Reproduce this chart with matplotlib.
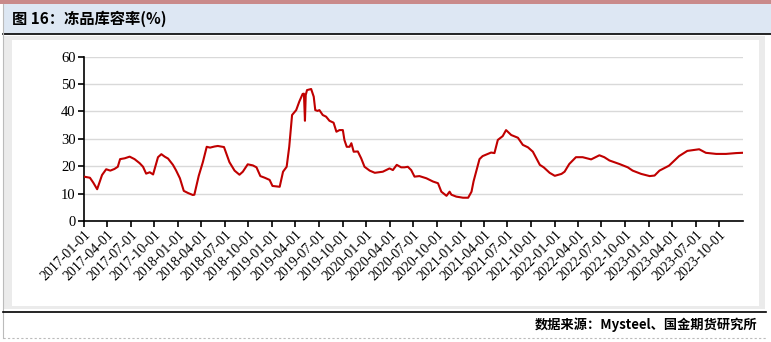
import matplotlib.pyplot as plt
import matplotlib.dates as mdates
import pandas as pd
from matplotlib.patches import Rectangle
from matplotlib.lines import Line2D

# 冻品库容率 (%)
dates = [
    "2017-01-01", "2017-01-24", "2017-02-06", "2017-02-21", "2017-03-12", "2017-03-28",
    "2017-04-13", "2017-04-29", "2017-05-12", "2017-05-21", "2017-06-08", "2017-06-27",
    "2017-07-16", "2017-08-05", "2017-08-18", "2017-08-30", "2017-09-13", "2017-09-26",
    "2017-10-15", "2017-10-28", "2017-11-10", "2017-11-23", "2017-12-12", "2017-12-24",
    "2018-01-08", "2018-01-23", "2018-02-09", "2018-02-27", "2018-03-05", "2018-03-22",
    "2018-04-07", "2018-04-22", "2018-05-05", "2018-05-22", "2018-06-04", "2018-06-21",
    "2018-06-28", "2018-07-19", "2018-08-08", "2018-08-27", "2018-09-09", "2018-09-28",
    "2018-10-18", "2018-11-01", "2018-11-16", "2018-12-03", "2018-12-22", "2019-01-02",
    "2019-01-30", "2019-02-12", "2019-02-26", "2019-03-08", "2019-03-19", "2019-04-04",
    "2019-04-16", "2019-04-29", "2019-05-04", "2019-05-08", "2019-05-11", "2019-05-16",
    "2019-06-01", "2019-06-11", "2019-06-17", "2019-06-26", "2019-07-03", "2019-07-16",
    "2019-07-29", "2019-08-11", "2019-08-27", "2019-09-07", "2019-09-19", "2019-10-02",
    "2019-10-08", "2019-10-17", "2019-10-28", "2019-11-04", "2019-11-13", "2019-11-29",
    "2019-12-12", "2019-12-25", "2020-01-14", "2020-02-03", "2020-03-05", "2020-03-31",
    "2020-04-13", "2020-04-28", "2020-05-15", "2020-05-28", "2020-06-10", "2020-06-23",
    "2020-07-06", "2020-07-25", "2020-08-21", "2020-09-16", "2020-10-05", "2020-10-18",
    "2020-11-07", "2020-11-19", "2020-11-26", "2020-12-15", "2021-01-10", "2021-01-30",
    "2021-02-12", "2021-02-20", "2021-03-02", "2021-03-15", "2021-03-27", "2021-04-16",
    "2021-04-29", "2021-05-12", "2021-05-25", "2021-06-13", "2021-06-26", "2021-07-16",
    "2021-08-11", "2021-08-30", "2021-09-19", "2021-10-08", "2021-11-04", "2021-11-19",
    "2021-12-12", "2022-01-01", "2022-01-27", "2022-02-08", "2022-02-26", "2022-03-24",
    "2022-04-19", "2022-05-22", "2022-06-23", "2022-07-12", "2022-08-01", "2022-09-09",
    "2022-10-11", "2022-10-30", "2022-12-02", "2023-01-04", "2023-01-23", "2023-02-11",
    "2023-03-20", "2023-04-28", "2023-05-30", "2023-07-15", "2023-08-10", "2023-09-19",
    "2023-10-27", "2023-12-05", "2023-12-28",
]
rate = [
    16.2, 15.8, 14.0, 11.6, 16.8, 18.9,
    18.4, 19.0, 19.8, 22.6, 22.9, 23.5,
    22.6, 21.1, 19.8, 17.3, 17.8, 17.0,
    23.3, 24.4, 23.5, 22.8, 20.5, 18.5,
    15.6, 11.0, 10.2, 9.5, 9.6, 16.5,
    21.5, 27.1, 26.8, 27.2, 27.4, 27.1,
    27.0, 21.5, 18.4, 16.9, 18.0, 20.7,
    20.3, 19.6, 16.4, 15.8, 15.0, 12.8,
    12.5, 18.0, 19.8, 27.1, 38.7, 40.5,
    43.6, 46.4, 46.5, 36.6, 46.0, 47.8,
    48.2, 45.4, 40.5, 40.2, 40.5, 38.7,
    38.1, 36.6, 35.9, 32.6, 33.2, 33.2,
    29.6, 27.1, 27.1, 28.4, 25.3, 25.4,
    22.9, 19.8, 18.4, 17.6, 18.0, 19.2,
    18.6, 20.5, 19.6, 19.6, 19.8, 18.6,
    16.2, 16.4, 15.6, 14.4, 13.8, 10.7,
    9.2, 10.7, 9.6, 8.9, 8.5, 8.5,
    10.7, 14.5, 18.0, 22.6, 23.7, 24.5,
    25.0, 24.8, 29.6, 31.0, 33.2, 31.4,
    30.4, 27.8, 26.9, 25.3, 20.5, 19.6,
    17.6, 16.5, 17.2, 18.0, 20.8, 23.3,
    23.3, 22.5, 24.0, 23.3, 22.1, 20.8,
    19.6, 18.4, 17.2, 16.4, 16.6, 18.4,
    20.2, 23.7, 25.6, 26.2, 24.9, 24.5,
    24.5, 24.8, 24.9,
]

title = "图 16：冻品库容率(%)"
source = "数据来源：Mysteel、国金期货研究所"
x_start, x_end = "2017-01-01", "2024-01-01"
tick_dates = pd.date_range("2017-01-01", "2023-10-01", freq="QS")
y_ticks = [0, 10, 20, 30, 40, 50, 60]

W, H = 771, 342
fig = plt.figure(figsize=(W / 100, H / 100), dpi=100)

def px_rect(x0, y0, x1, y1, **kw):
    # rectangle given in pixel coords (origin top-left)
    fig.patches.append(Rectangle((x0 / W, 1 - y1 / H), (x1 - x0) / W, (y1 - y0) / H,
                                 transform=fig.transFigure, zorder=-2, **kw))

def px_line(x0, y0, x1, y1, **kw):
    fig.lines.append(Line2D([x0 / W, x1 / W], [1 - y0 / H, 1 - y1 / H],
                            transform=fig.transFigure, zorder=-1, **kw))

# header band
px_rect(0, 0, W, 4, facecolor="#c98a8a", edgecolor="none")
px_rect(3, 4, W, 34, facecolor="#dde7f3", edgecolor="none")
px_line(3, 34, W, 34, color="black", lw=1.2)
px_line(3, 4, 3, 338, color="#bbbbbb", lw=0.8)
# chart panel
px_rect(4, 36, 765, 309, facecolor="#ebebeb", edgecolor="none")
px_rect(12, 40, 759, 306, facecolor="white", edgecolor="none")
# footer
px_line(3, 312, 766, 312, color="black", lw=1.2)
px_line(3, 338, 766, 338, color="#bbbbbb", lw=0.8, ls=(0, (2, 2)))

fig.text(12 / W, 1 - 19 / H, title, fontsize=11, fontweight="bold", va="center",
         family=["Noto Sans CJK SC", "DejaVu Sans"])
fig.text(757 / W, 1 - 325 / H, source, fontsize=9.5, fontweight="bold", va="center",
         ha="right", family=["Noto Sans CJK SC", "DejaVu Sans"])

ax = fig.add_axes([84 / W, 1 - 221 / H, (743 - 84) / W, (221 - 56.7) / H])
ax.set_zorder(5)
ax.set_facecolor("white")
ax.plot(pd.to_datetime(dates), rate, color="#c00000", lw=1.5, zorder=3)

ax.set_xlim(pd.Timestamp(x_start), pd.Timestamp(x_end))
ax.set_ylim(0, 60)
ax.set_yticks(y_ticks)
ax.set_xticks(tick_dates)
ax.xaxis.set_major_formatter(mdates.DateFormatter("%Y-%m-%d"))
ax.grid(axis="y", color="#d9d9d9", lw=1)
ax.set_axisbelow(True)
for s in ["top", "right"]:
    ax.spines[s].set_visible(False)
for s in ["left", "bottom"]:
    ax.spines[s].set_linewidth(1.2)
    ax.spines[s].set_color("black")
ax.tick_params(axis="both", direction="out", length=4, width=1.2, color="black")
ax.tick_params(axis="y", labelsize=10.5, pad=2)
ax.tick_params(axis="x", labelsize=10, pad=1)
for lab in ax.get_yticklabels():
    lab.set_family("Liberation Serif")
for lab in ax.get_xticklabels():
    lab.set_family("Liberation Serif")
    lab.set_rotation(45)
    lab.set_ha("right")
    lab.set_rotation_mode("anchor")

fig.savefig("out.png", dpi=100)
